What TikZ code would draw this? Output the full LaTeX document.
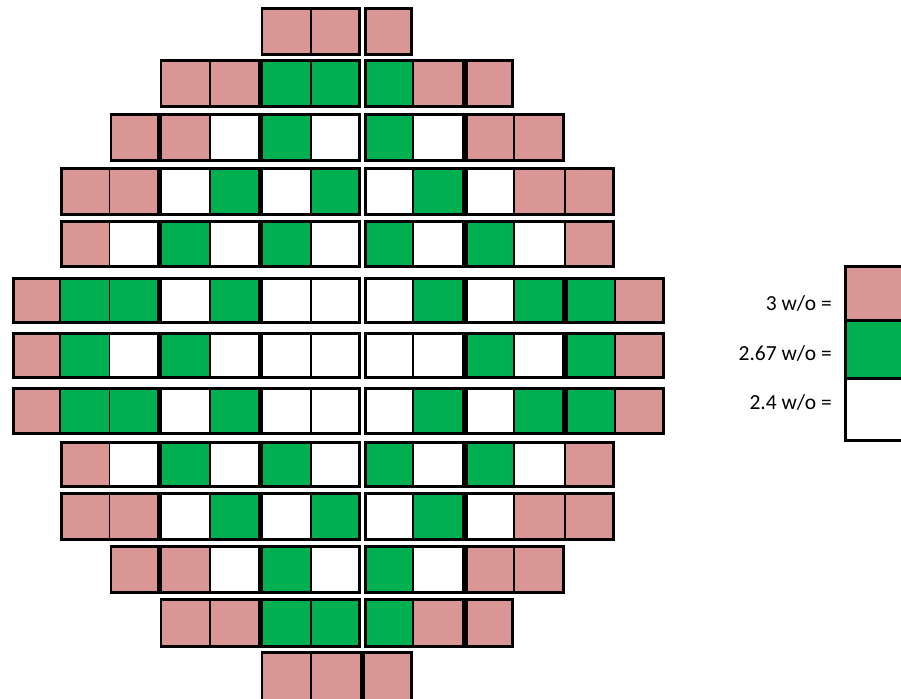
\documentclass[tikz,border=0pt]{standalone}
\usepackage{fontspec}
\setmainfont{Carlito}
\definecolor{P}{HTML}{DA9694}
\definecolor{G}{HTML}{00B050}
\colorlet{W}{white}
\def\bx{{12,60,109.5,159.5,210,260.5,311,362.5,413,465,514,565,615,665}}
\def\si{1.4}
\def\mi{2.9}
\tikzset{
  thinline/.style={draw=black, line width=1.7pt},
  grpbox/.style={draw=black, line width=2.8pt},
  legendtext/.style={anchor=base east, inner sep=0pt, font=\fontsize{21.5}{24}\selectfont, text=black},
  legendline/.style={draw=black, line width=3pt},
  legendbox/.style={draw=black, line width=3.6pt}
}
% #1 top, #2 bottom, #3 first col, #4 last col, #5 left inset, #6 right inset, #7 colours
\newcommand\grp[7]{%
  \pgfmathsetmacro\xl{\bx[#3]+#5}%
  \pgfmathsetmacro\xr{\bx[#4+1]-#6}%
  \pgfmathsetmacro\yt{#1+1.4}%
  \pgfmathsetmacro\yb{#2-1.4}%
  \begin{scope}
    \clip (\xl,\yt) rectangle (\xr,\yb);
    \foreach \c [count=\i from #3] in {#7} {%
      \pgfmathsetmacro\ca{\bx[\i]}%
      \pgfmathsetmacro\cb{\bx[\i+1]}%
      \fill[fill=\c] (\ca,\yt) rectangle (\cb,\yb);
      \ifnum\i>#3 \draw[thinline] (\ca,\yt) -- (\ca,\yb); \fi
    }
  \end{scope}
  \draw[grpbox] (\xl,\yt) rectangle (\xr,\yb);
}
\newcommand\rowTwo[2]{%
  \grp{#1}{#2}{3}{4}{\si}{\si}{P,P}
  \grp{#1}{#2}{5}{6}{\si}{\mi}{G,G}
  \grp{#1}{#2}{7}{8}{\mi}{\si}{G,P}
  \grp{#1}{#2}{9}{9}{\si}{\si}{P}}
\newcommand\rowThree[2]{%
  \grp{#1}{#2}{2}{2}{\si}{\si}{P}
  \grp{#1}{#2}{3}{4}{\si}{\si}{P,W}
  \grp{#1}{#2}{5}{6}{\si}{\mi}{G,W}
  \grp{#1}{#2}{7}{8}{\mi}{\si}{G,W}
  \grp{#1}{#2}{9}{10}{\si}{\si}{P,P}}
\newcommand\rowFour[2]{%
  \grp{#1}{#2}{1}{2}{\si}{\si}{P,P}
  \grp{#1}{#2}{3}{4}{\si}{\si}{W,G}
  \grp{#1}{#2}{5}{6}{\si}{\mi}{W,G}
  \grp{#1}{#2}{7}{8}{\mi}{\si}{W,G}
  \grp{#1}{#2}{9}{11}{\si}{\si}{W,P,P}}
\newcommand\rowFive[2]{%
  \grp{#1}{#2}{1}{2}{\si}{\si}{P,W}
  \grp{#1}{#2}{3}{4}{\si}{\si}{G,W}
  \grp{#1}{#2}{5}{6}{\si}{\mi}{G,W}
  \grp{#1}{#2}{7}{8}{\mi}{\si}{G,W}
  \grp{#1}{#2}{9}{11}{\si}{\si}{G,W,P}}
\newcommand\rowSix[2]{%
  \grp{#1}{#2}{0}{2}{\si}{\si}{P,G,G}
  \grp{#1}{#2}{3}{4}{\si}{\si}{W,G}
  \grp{#1}{#2}{5}{6}{\si}{\mi}{W,W}
  \grp{#1}{#2}{7}{8}{\mi}{\si}{W,G}
  \grp{#1}{#2}{9}{10}{\si}{\si}{W,G}
  \grp{#1}{#2}{11}{12}{\si}{\si}{G,P}}
\begin{document}
\begin{tikzpicture}[x=1pt,y=-1pt]
\useasboundingbox (0,0) rectangle (901,698);
\clip (0,0) rectangle (901,698);
% core map
\grp{7}{56}{5}{6}{\si}{\mi}{P,P}
\grp{7}{56}{7}{7}{\mi}{\si}{P}
\rowTwo{59}{108}
\rowThree{113}{162}
\rowFour{167}{216}
\rowFive{220}{268}
\rowSix{277}{324}
\grp{332}{379}{0}{2}{\si}{\si}{P,G,W}
\grp{332}{379}{3}{4}{\si}{\si}{G,W}
\grp{332}{379}{5}{6}{\si}{\mi}{W,W}
\grp{332}{379}{7}{8}{\mi}{\si}{W,W}
\grp{332}{379}{9}{10}{\si}{\si}{G,W}
\grp{332}{379}{11}{12}{\si}{\si}{G,P}
\rowSix{387}{435}
\rowFive{441}{488}
\rowFour{492}{541}
\rowThree{545}{594}
\rowTwo{598}{648}
\grp{651}{705}{5}{6}{\si}{\si}{P,P}
\grp{651}{705}{7}{7}{\si}{\si}{P}
% legend
\fill[P] (845.5,266.5) rectangle (910,320);
\fill[G] (845.5,320) rectangle (910,378.3);
\fill[W] (845.5,378.3) rectangle (910,440.5);
\draw[legendline] (845.5,320) -- (910,320);
\draw[legendline] (845.5,378.3) -- (910,378.3);
\draw[legendbox] (845.5,266.5) rectangle (910,440.5);
\node[legendtext] (l1) at (832,310.5) {3 w/o =};
\node[legendtext] (l2) at (832,360) {2.67 w/o =};
\node[legendtext] (l3) at (832,409) {2.4 w/o =};
\end{tikzpicture}
\end{document}
